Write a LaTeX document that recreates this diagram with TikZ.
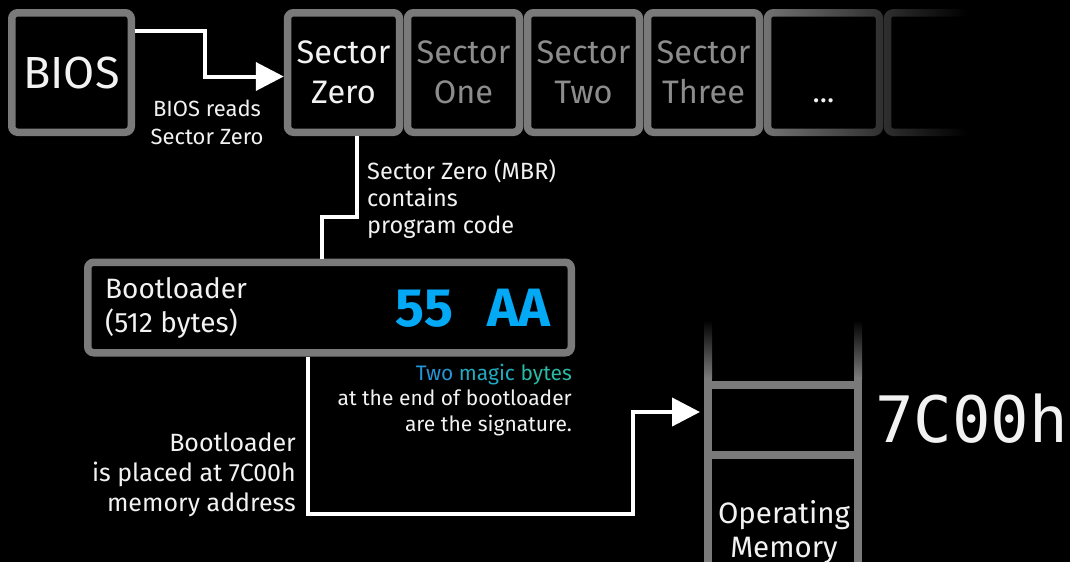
\documentclass[tikz,border=0pt]{standalone}
\usepackage{fontspec}
\setmainfont{Fira Sans}
\newfontfamily\addrfont{DejaVu Sans Mono}
\usetikzlibrary{arrows.meta,calc,fadings}
\definecolor{bordergray}{RGB}{122,122,122}
\definecolor{dimtext}{RGB}{140,140,140}
\definecolor{magicblue}{RGB}{3,169,244}
\definecolor{txt}{RGB}{242,242,242}
\definecolor{magicA}{RGB}{35,150,215}
\definecolor{magicB}{RGB}{35,170,192}
\definecolor{magicC}{RGB}{40,186,165}
\newcommand\setfs[2]{\fontsize{#1}{#2}\selectfont}
\tikzfading[name=fadetoright, left color=transparent!100, right color=transparent!0]
\begin{document}
\begin{tikzpicture}[x=1pt,y=-1pt,
  box/.style={draw=bordergray, line width=7.5pt, fill=black, rounded corners=6pt, inner sep=0pt},
  sector/.style={box, minimum width=112pt, minimum height=119.5pt, align=center, text=dimtext, font=\setfs{32.5}{40}},
  conn/.style={draw=white, line width=4pt},
  arr/.style={conn, -{Triangle[length=28pt,width=28pt]}},
  lbl/.style={text=txt, inner sep=0pt},
  memline/.style={fill=bordergray},
]
\useasboundingbox (0,0) rectangle (1070,562);
\fill[black] (0,0) rectangle (1070,562);

% BIOS
\node[box, minimum width=119.5pt, minimum height=119.5pt, text=txt, font=\setfs{45}{50}] (bios) at (71.5,72.5) {BIOS};

% sectors
\node[sector, text=txt] (s0) at (343.5,72.5) {Sector\\Zero};
\node[sector] (s1) at (463.5,72.5) {Sector\\One};
\node[sector] (s2) at (583.5,72.5) {Sector\\Two};
\node[sector] (s3) at (703.5,72.5) {Sector\\Three};
\node[sector] (s4) at (823.5,72.5) {};
\node[sector] (s5) at (943.5,72.5) {};
\fill[black, path fading=fadetoright] (752,0) rectangle (968,150);
\fill[black] (967,0) rectangle (1070,150);
\node[lbl, anchor=base, font=\setfs{30}{36}] (dots) at ([yshift=-30pt]s4.center) {...};

% BIOS -> Sector Zero
\draw[arr] ([yshift=41.5pt]bios.east) -- ++(70,0) |- ([yshift=-4pt]s0.west);
\node[lbl, anchor=base, align=center, font=\setfs{22}{28}] (readlbl) at (207,144) {BIOS reads\\Sector Zero};

% Bootloader
\node[box, minimum width=483.5pt, minimum height=90.5pt] (boot) at (329.5,307.5) {};
\node[lbl, anchor=base west, align=left, font=\setfs{28}{34}] (bootlbl) at (105,332) {Bootloader\\(512 bytes)};
\node[inner sep=0pt, anchor=base east, text=magicblue, font=\bfseries\setfs{54}{60}] (magic) at (551,326) {55\hspace{0.62em}AA};

% Sector Zero -> Bootloader
\draw[conn] ([xshift=13.5pt]s0.south) -- ++(0,81) -| ([xshift=-7.5pt]boot.north);
\node[lbl, anchor=base west, align=left, font=\setfs{23.5}{27}] (mbrlbl) at (367,233) {Sector Zero (MBR)\\contains\\program code};

% magic bytes note
\node[lbl, anchor=base east, align=right, font=\setfs{21}{25.5}] (magicnote) at (572,431)
  {\textcolor{magicA}{Two} \textcolor{magicB}{magic} \textcolor{magicC}{bytes}\\at the end of bootloader\\are the signature.};

% memory
\shade[top color=black, bottom color=bordergray] (704,320) rectangle (712,378);
\fill[memline] (704,377.5) rectangle (712,562);
\shade[top color=black, bottom color=bordergray] (854,320) rectangle (862,378);
\fill[memline] (854,377.5) rectangle (862,562);
\fill[memline] (712,381) rectangle (854,389);
\fill[memline] (712,451) rectangle (854,459);
\node[inner sep=0pt, outer sep=0pt, minimum width=166pt, minimum height=70pt] (mem) at (783,420) {};
\node[lbl, anchor=base, align=center, font=\setfs{29.5}{34}] (memlbl) at (784,557) {Operating\\Memory};
\node[lbl, anchor=base west, font=\addrfont\setfs{64}{70}] (addr) at (875,442) {7C00h};

% Bootloader -> memory
\draw[arr] ([xshift=-21.5pt]boot.south) -- ++(0,157.5) -| ([xshift=-67pt,yshift=8pt]mem.west) -- ([yshift=8pt]mem.west);
\node[lbl, anchor=base east, align=right, font=\setfs{25}{30}] (placedlbl) at (296,511) {Bootloader\\is placed at 7C00h\\memory address};
\end{tikzpicture}
\end{document}
